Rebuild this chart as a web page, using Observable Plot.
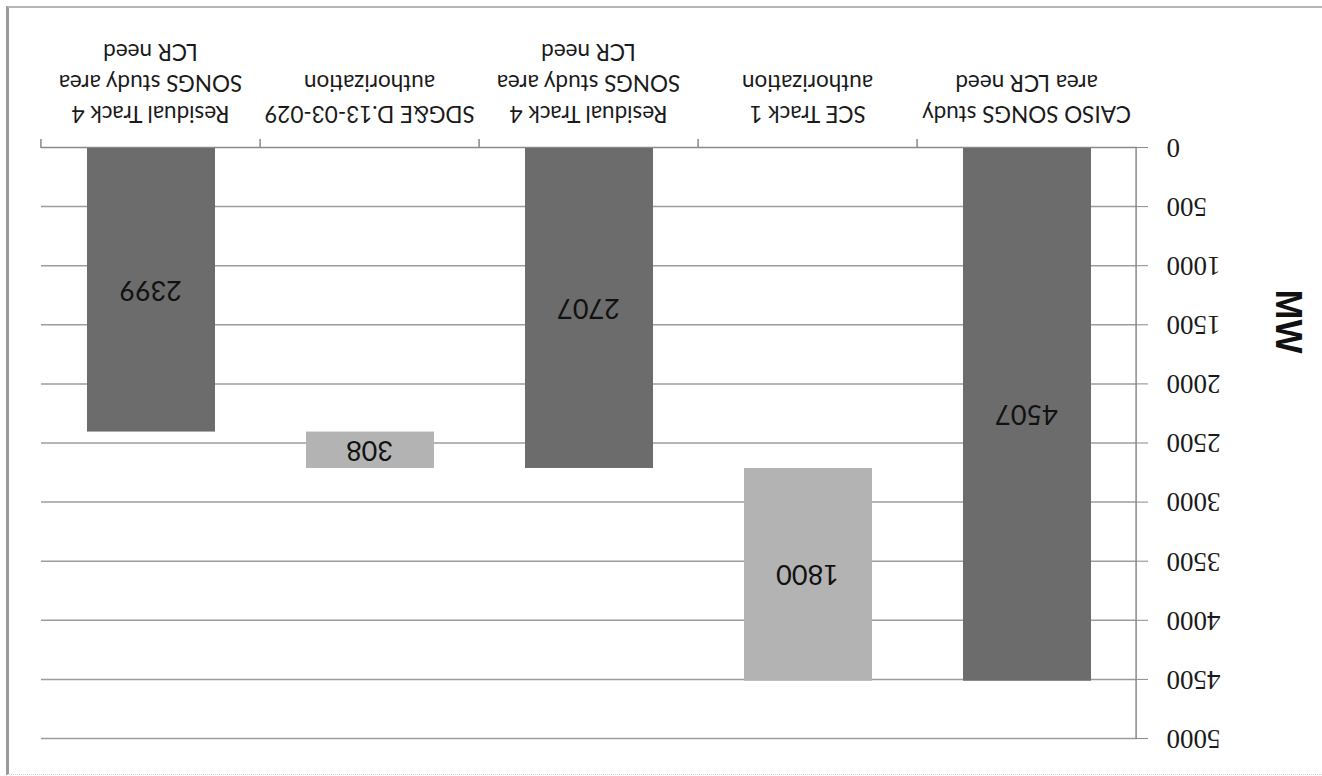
<!DOCTYPE html>
<html><head><meta charset="utf-8">
<script src="https://cdn.jsdelivr.net/npm/d3@7"></script>
<script src="https://cdn.jsdelivr.net/npm/@observablehq/plot@0.6"></script>
<style>
html,body{margin:0;padding:0;background:#fff;overflow:hidden;width:1322px;height:776px;}
#wrap{position:absolute;left:0;top:0;width:1322px;height:776px;transform:rotate(180deg);transform-origin:50% 50%;}
#border{position:absolute;left:6px;top:6px;width:1330px;height:769px;border-left:3px solid #9a9a9a;border-top:2px solid #b4b4b4;border-bottom:1px dotted #d4d4d4;box-sizing:border-box;}
</style></head><body>
<div id="border"></div>
<div id="wrap"></div>
<script>
// Data (chart is shown rotated 180°, as in the reference)
const categories = ["c0", "c1", "c2", "c3", "c4"];
const categoryLabels = [
  "CAISO SONGS study\narea LCR need",
  "SCE Track 1\nauthorization",
  "Residual Track 4\nSONGS study area\nLCR need",
  "SDG&E D.13-03-029\nauthorization",
  "Residual Track 4\nSONGS study area\nLCR need"
];
const values = [4507, 1800, 2707, 308, 2399];
const kinds = ["total", "decrease", "total", "decrease", "total"];
const yTicks = [0, 500, 1000, 1500, 2000, 2500, 3000, 3500, 4000, 4500, 5000];
const yTitle = "MW";

// Waterfall table
let level = 0;
const bars = categories.map((key, i) => {
  const v = values[i];
  let y1, y2;
  if (kinds[i] === "total") { y1 = 0; y2 = v; level = v; }
  else { y1 = level - v; y2 = level; level = level - v; }
  return {key, value: v, kind: kinds[i], y1, y2, mid: (y1 + y2) / 2};
});
const labelOf = Object.fromEntries(categories.map((k, i) => [k, categoryLabels[i]]));

// Layout
const W = 1322, H = 776, mL = 185, mR = 41, mT = 37, mB = 148;
const padInner = 0.415, padOuter = padInner / 2;
const step = (W - mL - mR) / (categories.length - padInner + 2 * padOuter);
const gridColor = "#9c9c9c";
const axisColor = "#8a8a8a";

const plot = Plot.plot({
  width: W, height: H,
  marginLeft: mL, marginRight: mR, marginTop: mT, marginBottom: mB,
  style: {fontFamily: "Lato, 'Liberation Sans', sans-serif", background: "transparent", color: "#1a1a1a"},
  x: {domain: categories, paddingInner: padInner, paddingOuter: padOuter},
  y: {domain: [0, 5000]},
  marks: [
    Plot.ruleY(yTicks.filter(t => t > 0), {stroke: gridColor, strokeWidth: 1.5}),
    Plot.ruleY([0], {stroke: axisColor, strokeWidth: 1.5}),
    Plot.rectY(bars.filter(d => d.kind === "total"), {x: "key", y1: "y1", y2: "y2", fill: "#6c6c6c"}),
    Plot.rectY(bars.filter(d => d.kind !== "total"), {x: "key", y1: "y1", y2: "y2", fill: "#b3b3b3"}),
    // y axis line at left edge of first band
    Plot.ruleX([categories[0]], {dx: -step / 2, y1: 0, y2: 5000, stroke: axisColor, strokeWidth: 1.5}),
    // category boundary ticks
    Plot.ruleX(categories.slice(1), {dx: -step / 2, y1: 0, y2: 0, insetBottom: -9, stroke: axisColor, strokeWidth: 1.5}),
    Plot.ruleX([categories[categories.length - 1]], {dx: step / 2, y1: 0, y2: 0, insetBottom: -9, stroke: axisColor, strokeWidth: 1.5}),
    Plot.axisY({ticks: yTicks, tickFormat: d => String(d), tickSize: 11, tickPadding: 19, fontSize: 27,
      fontFamily: "'Liberation Serif', serif", stroke: axisColor, fill: "#1a1a1a", label: null}),
    Plot.axisX({tickSize: 0, tickPadding: 19, tickFormat: k => labelOf[k], fontSize: 22.5, lineHeight: 1.38,
      fill: "#1a1a1a", label: null}),
    Plot.text(bars, {x: "key", y: "mid", text: d => String(d.value), fontSize: 27, fill: "#111"}),
    Plot.text([yTitle], {frameAnchor: "left", dx: 34 - mL, dy: 486 - (mT + (H - mT - mB) / 2), rotate: -90,
      fontWeight: "bold", fontSize: 36, fontFamily: "'Liberation Sans', sans-serif", fill: "#111"})
  ]
});
document.getElementById("wrap").appendChild(plot);
</script>
</body></html>
